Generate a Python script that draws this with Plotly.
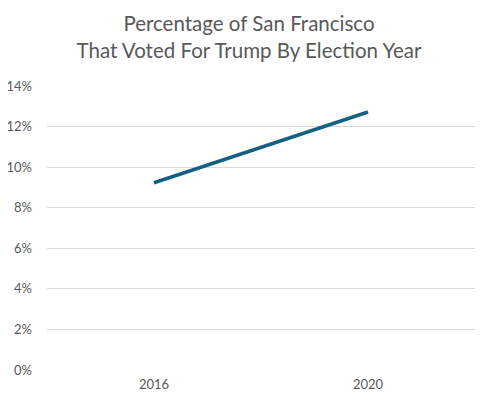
import plotly.graph_objects as go

years = ["2016", "2020"]
trump_share = [0.0923, 0.1272]
tick_vals = [0, 0.02, 0.04, 0.06, 0.08, 0.10, 0.12, 0.14]

FONT = "Lato"
W, H = 482, 396  # page body adds an 8px margin
fig = go.Figure(
    go.Scatter(
        x=years, y=trump_share, mode="lines",
        line=dict(color="#156082", width=3.5),
        hoverinfo="skip",
    )
)
fig.update_layout(
    width=W, height=H,
    margin=dict(l=39, r=15, t=78, b=34, autoexpand=False),
    paper_bgcolor="white", plot_bgcolor="white",
    showlegend=False,
    font=dict(family=FONT, color="#595959", size=13),
    title=dict(
        text="Percentage of San Francisco<br>That Voted For Trump By Election Year",
        x=0.5, xanchor="center", y=1 - 23 / H, yanchor="top",
        font=dict(family=FONT, size=20.5, color="#595959"),
    ),
)
fig.update_xaxes(
    type="category", range=[-0.5, 1.5], showgrid=False, zeroline=False,
    showline=False, ticks="", tickfont=dict(size=13, color="#595959"),
    ticklabelstandoff=5, automargin=False,
)
fig.update_yaxes(
    range=[0, 0.14], tickvals=tick_vals, tickformat=".0%",
    showgrid=True, gridcolor="#d9d9d9", gridwidth=1, zeroline=False,
    showline=False, ticks="", tickfont=dict(size=13, color="#595959"),
    ticklabelstandoff=14, automargin=False,
)
fig.write_html("out.html")
